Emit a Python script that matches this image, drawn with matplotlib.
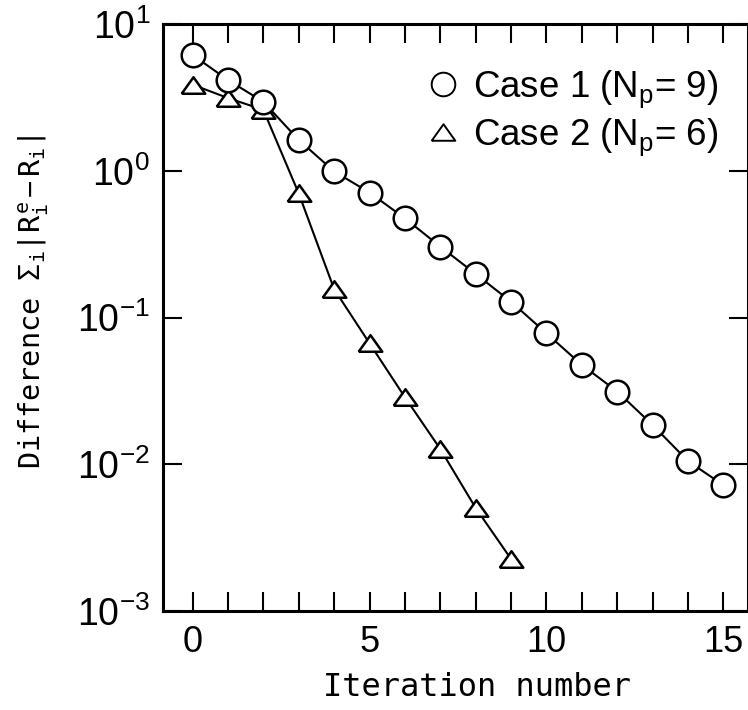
import math
import matplotlib
matplotlib.use("Agg")
import matplotlib.pyplot as plt
from matplotlib.lines import Line2D
from matplotlib.ticker import FixedLocator, FuncFormatter, NullLocator

plt.rcParams['mathtext.fontset'] = 'custom'
plt.rcParams['mathtext.rm'] = 'DejaVu Sans Mono'
plt.rcParams['mathtext.it'] = 'DejaVu Sans Mono'
plt.rcParams['mathtext.sf'] = 'Liberation Sans'

# values
case1_iter = list(range(16))
case1_diff = [6.15, 4.15, 2.95, 1.62, 0.99, 0.71, 0.474, 0.304, 0.198, 0.128,
              0.078, 0.0475, 0.0313, 0.0185, 0.0105, 0.0072]
case2_iter = list(range(10))
case2_diff = [3.86, 3.13, 2.6, 0.70, 0.156, 0.0667, 0.0286, 0.0127, 0.00503, 0.00226]
case_labels = [r'Case 1 (N$_\mathsf{p}$= 9)', r'Case 2 (N$_\mathsf{p}$= 6)']
x_ticks = list(range(16))
x_ticklabels = ['0', '5', '10', '15']
y_decades = [-3, -2, -1, 0, 1]

tri = [(-1, -0.7), (1, -0.7), (0, 0.7), (-1, -0.7)]

fig = plt.figure(figsize=(7.48, 7.10), dpi=100)
ax = fig.add_axes([162.5 / 748, 99 / 710, 585 / 748, 587 / 710])

ax.plot(case2_iter, case2_diff, color='black', lw=1.5, marker=tri, ms=17,
        mfc='white', mec='black', mew=1.8, zorder=2)
ax.plot(case1_iter, case1_diff, color='black', lw=1.5, marker='o', ms=17,
        mfc='white', mec='black', mew=1.8, zorder=3)

ax.set_yscale('log')
ax.set_xlim(-0.85, 15.68)
ax.set_ylim(1e-3, 1e1)

ax.xaxis.set_major_locator(FixedLocator(x_ticks))
ax.xaxis.set_major_formatter(FuncFormatter(
    lambda v, p: str(int(v)) if str(int(v)) in x_ticklabels else ''))
ax.yaxis.set_major_locator(FixedLocator([10.0 ** d for d in y_decades]))
ax.yaxis.set_minor_locator(NullLocator())
ax.yaxis.set_major_formatter(FuncFormatter(
    lambda v, p: r'$\mathsf{10^{%d}}$' % round(math.log10(v))))

ax.tick_params(which='both', direction='in', top=True, right=True,
               length=13.5, width=1.5, pad=10)
ax.tick_params(axis='x', labelsize=26)
ax.tick_params(axis='y', labelsize=27, pad=9)
for lab in ax.get_xticklabels() + ax.get_yticklabels():
    lab.set_fontfamily('Liberation Sans')
for s in ax.spines.values():
    s.set_linewidth(2.2)

ax.set_xlabel('Iteration number', family='DejaVu Sans Mono', fontsize=23)
ax.xaxis.set_label_coords(0.538, -0.104)
ax.set_ylabel(r'Difference $\Sigma_{i}|R_{i}^{e}-R_{i}|$',
              family='DejaVu Sans Mono', fontsize=20.5)
ax.yaxis.set_label_coords(-0.19, 0.526)

handles = [
    Line2D([], [], ls='none', marker='o', ms=17, mfc='white', mec='black', mew=1.4),
    Line2D([], [], ls='none', marker=tri, ms=17, mfc='white', mec='black', mew=1.4),
]
ax.legend(handles, case_labels, loc='upper right', bbox_to_anchor=(1.0, 0.975),
          frameon=False, prop={'family': 'Liberation Sans', 'size': 26.5},
          handlelength=1.0, handletextpad=0.3, labelspacing=0.18, borderpad=0.3)

fig.savefig('out.png', dpi=100)
